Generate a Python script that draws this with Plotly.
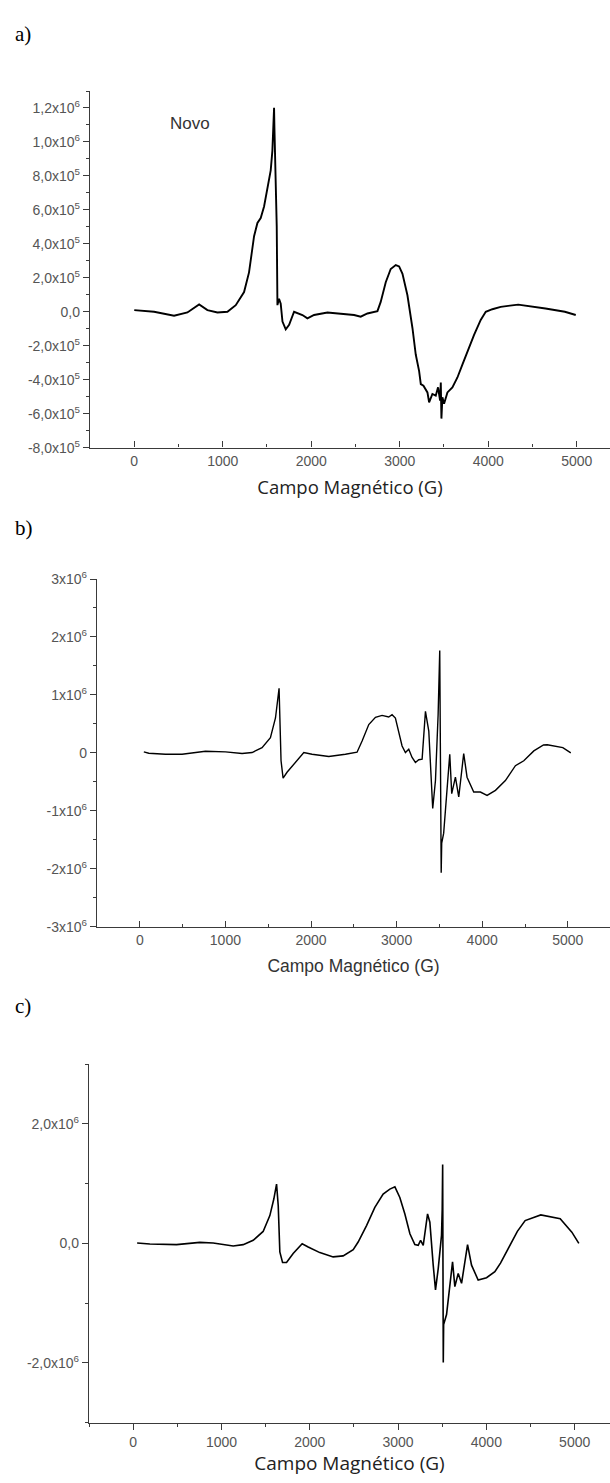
import plotly.graph_objects as go

W, H = 610, 1483

# ---------------- data ----------------
a_field = [0, 224, 450, 601, 733, 827, 940, 1053, 1147, 1241, 1297, 1354, 1392, 1429, 1467,
           1505, 1542, 1561, 1569, 1575, 1580, 1584, 1590, 1610, 1618, 1636, 1655, 1675, 1712,
           1750, 1806, 1844, 1900, 1957, 2032, 2183, 2333, 2484, 2559, 2635, 2748, 2785, 2842,
           2898, 2955, 2993, 3031, 3087, 3144, 3181, 3219, 3238, 3268, 3313, 3332, 3369, 3407,
           3433, 3456, 3464, 3471, 3482, 3501, 3539, 3595, 3652, 3709, 3765, 3840, 3915, 3972,
           4047, 4141, 4292, 4339, 4647, 4866, 4989]
a_signal = [10e3, 0, -23e3, -4e3, 43e3, 10e3, -4e3, 0, 39e3, 116e3, 232e3, 445e3, 523e3, 552e3, 620e3,
            717e3, 833e3, 949e3, 1027e3, 1085e3, 1201e3, 1085e3, 950e3, 504e3, 39e3, 77e3, 48e3, -58e3, -103e3,
            -77e3, 0, -6e3, -19e3, -39e3, -19e3, -4e3, -10e3, -19e3, -29e3, -10e3, 4e3, 58e3, 174e3,
            252e3, 275e3, 267e3, 223e3, 97e3, -97e3, -252e3, -349e3, -426e3, -436e3, -475e3, -533e3, -484e3, -494e3,
            -445e3, -523e3, -416e3, -629e3, -504e3, -542e3, -475e3, -445e3, -387e3, -310e3, -232e3, -136e3, -48e3, 0,
            15e3, 29e3, 39e3, 42e3, 19e3, 0, -19e3]

b_field = [47, 105, 300, 494, 767, 1001, 1195, 1312, 1428, 1526, 1585, 1612, 1627, 1650, 1674,
           1720, 1818, 1916, 2012, 2208, 2402, 2538, 2597, 2675, 2753, 2830, 2908, 2947, 2986,
           3025, 3064, 3103, 3142, 3181, 3220, 3259, 3298, 3337, 3376, 3422, 3454, 3485, 3504,
           3521, 3527, 3550, 3589, 3621, 3644, 3687, 3726, 3784, 3823, 3901, 3979, 4057, 4155,
           4271, 4388, 4486, 4603, 4716, 4760, 4942, 5035]
b_signal = [17e3, -6e3, -23e3, -23e3, 28e3, 17e3, -11e3, 6e3, 91e3, 261e3, 602e3, 886e3, 1113e3, -136e3, -437e3,
            -335e3, -165e3, 6e3, -23e3, -62e3, -23e3, 11e3, 204e3, 489e3, 613e3, 647e3, 619e3, 659e3, 602e3,
            375e3, 119e3, 6e3, 62e3, -79e3, -165e3, -119e3, -108e3, 716e3, 375e3, -960e3, -477e3, 659e3, 1767e3,
            -2067e3, -1556e3, -1385e3, -647e3, -23e3, -704e3, -420e3, -761e3, -11e3, -420e3, -676e3, -676e3, -733e3, -647e3,
            -477e3, -221e3, -136e3, 34e3, 136e3, 140e3, 91e3, 0]

c_field = [45, 189, 491, 755, 906, 1133, 1246, 1359, 1472, 1548, 1593, 1624, 1643, 1661, 1692,
           1737, 1812, 1914, 1982, 2114, 2265, 2378, 2492, 2548, 2643, 2737, 2831, 2907, 2964,
           3020, 3077, 3134, 3190, 3228, 3255, 3285, 3334, 3360, 3398, 3424, 3455, 3492, 3500,
           3505, 3512, 3516, 3549, 3587, 3617, 3643, 3681, 3719, 3787, 3832, 3907, 4002, 4096,
           4160, 4250, 4351, 4439, 4616, 4836, 4968, 5047]
c_signal = [6e3, -11e3, -22e3, 17e3, 6e3, -44e3, -22e3, 50e3, 199e3, 464e3, 741e3, 990e3, 630e3, -144e3, -320e3,
            -320e3, -171e3, -6e3, -61e3, -155e3, -227e3, -210e3, -105e3, 22e3, 298e3, 602e3, 824e3, 907e3, 945e3,
            768e3, 492e3, 160e3, -22e3, -33e3, 50e3, -33e3, 492e3, 354e3, -365e3, -779e3, -420e3, 133e3, 575e3,
            1320e3, -1995e3, -1360e3, -1190e3, -752e3, -309e3, -724e3, -503e3, -669e3, -22e3, -365e3, -614e3, -575e3, -475e3,
            -330e3, -80e3, 200e3, 381e3, 476e3, 410e3, 187e3, 0]

field_ticks = [0, 1000, 2000, 3000, 4000, 5000]
field_labels = ["0", "1000", "2000", "3000", "4000", "5000"]

a_ytick_vals = [-800000, -600000, -400000, -200000, 0, 200000, 400000, 600000, 800000, 1000000, 1200000]
a_ytick_text = ["-8,0x10<sup>5</sup>", "-6,0x10<sup>5</sup>", "-4,0x10<sup>5</sup>", "-2,0x10<sup>5</sup>",
                "0,0", "2,0x10<sup>5</sup>", "4,0x10<sup>5</sup>", "6,0x10<sup>5</sup>",
                "8,0x10<sup>5</sup>", "1,0x10<sup>6</sup>", "1,2x10<sup>6</sup>"]
b_ytick_vals = [-3000000, -2000000, -1000000, 0, 1000000, 2000000, 3000000]
b_ytick_text = ["-3x10<sup>6</sup>", "-2x10<sup>6</sup>", "-1x10<sup>6</sup>", "0",
                "1x10<sup>6</sup>", "2x10<sup>6</sup>", "3x10<sup>6</sup>"]
c_ytick_vals = [-2000000, 0, 2000000]
c_ytick_text = ["-2,0x10<sup>6</sup>", "0,0", "2,0x10<sup>6</sup>"]

x_title = "Campo Magnético (G)"
panel_labels = ["a)", "b)", "c)"]
note_text = "Novo"

# ---------------- styling ----------------
AX = "#3a3a3a"
TICKFONT = dict(family="Liberation Sans, Arial, sans-serif", size=14, color="#555555")


def xd(p0, p1):
    return [p0 / W, p1 / W]


def yd(top, bottom):
    return [1 - bottom / H, 1 - top / H]


def xaxis(domain, rng, anchor, ticks, title_font, standoff):
    return dict(domain=domain, range=rng, anchor=anchor, showline=True, linecolor=AX, linewidth=1.3,
                showgrid=False, zeroline=False, tickmode="array", tickvals=field_ticks, ticktext=field_labels,
                ticks=ticks, ticklen=6, tickwidth=1.2, tickcolor=AX, tickfont=TICKFONT,
                minor=dict(tickmode="linear", tick0=500, dtick=1000, ticks=ticks, ticklen=3, tickwidth=1, tickcolor=AX),
                title=dict(text=x_title, font=title_font, standoff=standoff))


def yaxis(domain, rng, anchor, vals, text, minor_dtick):
    return dict(domain=domain, range=rng, anchor=anchor, showline=True, linecolor=AX, linewidth=1.3,
                showgrid=False, zeroline=False, tickmode="array", tickvals=vals, ticktext=text,
                ticks="outside", ticklen=6, tickwidth=1.2, tickcolor=AX, tickfont=TICKFONT,
                minor=dict(tickmode="linear", tick0=0, dtick=minor_dtick, ticks="outside", ticklen=3,
                           tickwidth=1, tickcolor=AX))


fig = go.Figure()
fig.add_trace(go.Scatter(x=a_field, y=a_signal, mode="lines", line=dict(color="black", width=1.9),
                         xaxis="x", yaxis="y", showlegend=False))
fig.add_trace(go.Scatter(x=b_field, y=b_signal, mode="lines", line=dict(color="black", width=1.4),
                         xaxis="x2", yaxis="y2", showlegend=False))
fig.add_trace(go.Scatter(x=c_field, y=c_signal, mode="lines", line=dict(color="black", width=1.6),
                         xaxis="x3", yaxis="y3", showlegend=False))

title_a = dict(family="Open Sans, sans-serif", size=18.5, color="#222")
title_b = dict(family="Liberation Sans, Arial, sans-serif", size=17.5, color="#333")
title_c = dict(family="Open Sans, sans-serif", size=19, color="#222")

fig.update_layout(
    width=W, height=H, margin=dict(l=0, r=0, t=0, b=0),
    paper_bgcolor="white", plot_bgcolor="white",
    xaxis=xaxis(xd(90, W), [-500, 5376], "y", "inside", title_a, 13),
    yaxis=yaxis(yd(82, 443), [-800000, 1300000], "x", a_ytick_vals, a_ytick_text, 100000),
    xaxis2=xaxis(xd(97, W), [-500, 5493], "y2", "inside", title_b, 13),
    yaxis2=yaxis(yd(576, 928), [-3000000, 3000000], "x2", b_ytick_vals, b_ytick_text, 500000),
    xaxis3=xaxis(xd(89, W), [-500, 5400], "y3", "outside", title_c, 8),
    yaxis3=yaxis(yd(1067, 1430), [-3000000, 3000000], "x3", c_ytick_vals, c_ytick_text, 1000000),
)

label_pos = [24, 524, 1008]
for lab, ypix in zip(panel_labels, label_pos):
    fig.add_annotation(text=lab, xref="paper", yref="paper", x=13 / W, y=1 - ypix / H,
                       xanchor="left", yanchor="middle", showarrow=False,
                       font=dict(family="Liberation Serif, Times New Roman, serif", size=21, color="black"))

fig.add_annotation(text=note_text, xref="x", yref="y", x=627, y=1110000, showarrow=False,
                   xanchor="center", yanchor="middle",
                   font=dict(family="Liberation Sans, Arial, sans-serif", size=17, color="#333"))

fig.write_html("out.html")
